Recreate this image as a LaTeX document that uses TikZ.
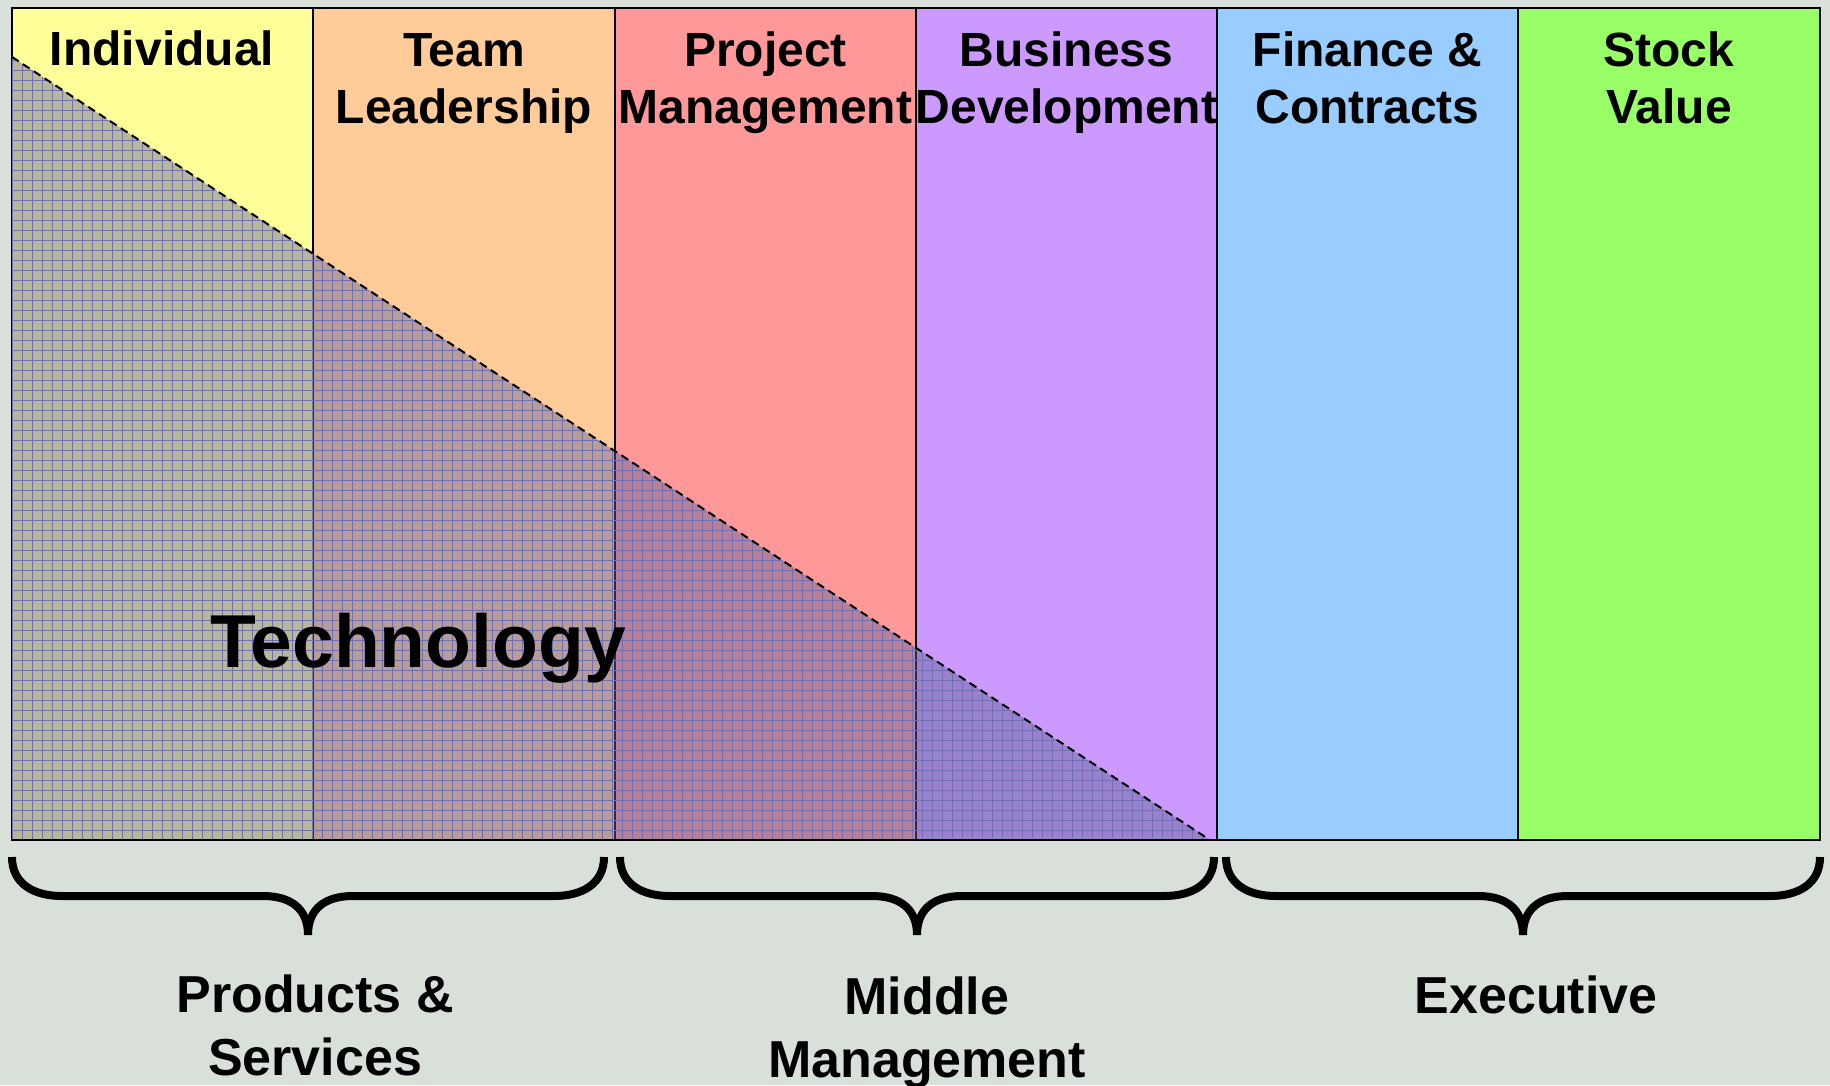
\documentclass[tikz,border=0pt]{standalone}
\usepackage{fontspec}
\setmainfont{Liberation Sans}
\definecolor{bgc}{RGB}{217,224,217}
\definecolor{cyel}{RGB}{255,255,153}
\definecolor{corg}{RGB}{255,204,153}
\definecolor{cred}{RGB}{255,153,153}
\definecolor{cpur}{RGB}{204,153,255}
\definecolor{cblu}{RGB}{153,204,255}
\definecolor{cgrn}{RGB}{153,255,102}
\definecolor{ovl}{RGB}{98,98,151}
\definecolor{gridc}{RGB}{112,112,178}
\begin{document}
\begin{tikzpicture}[x=1pt,y=-1pt,
  colborder/.style={draw=black, line width=2pt},
  head/.style={font=\fontsize{48}{57}\selectfont\bfseries, align=center, anchor=base, inner sep=0pt},
  grouplabel/.style={font=\fontsize{52}{63}\selectfont\bfseries, align=center, anchor=base, inner sep=0pt},
  bigword/.style={font=\fontsize{75}{80}\selectfont\bfseries, anchor=base, inner sep=0pt},
  bracestroke/.style={draw=black, line width=8pt, line cap=butt},
  gridline/.style={draw=gridc, line width=0.9pt},
  hypot/.style={draw=black, line width=2pt, dash pattern=on 8pt off 5pt}]
\fill[bgc] (0,0) rectangle (1830,1085);
\useasboundingbox (0,0) rectangle (1830,1085);
% columns
\fill[cyel] (12,8) rectangle (313,840);
\fill[corg] (313,8) rectangle (615,840);
\fill[cred] (615,8) rectangle (916,840);
\fill[cpur] (916,8) rectangle (1217,840);
\fill[cblu] (1217,8) rectangle (1518,840);
\fill[cgrn] (1518,8) rectangle (1820,840);
\foreach \x in {313,615,916,1217,1518} \draw[colborder] (\x,8) -- (\x,840);
\draw[colborder] (12,8) rectangle (1820,840);
% technology triangle
\begin{scope}
  \clip (12,57) -- (12,840) -- (1210,840) -- cycle;
  \fill[ovl, opacity=0.45] (0,0) rectangle (1830,1085);
  \foreach \gx in {12,22,...,1212} \draw[gridline] (\gx,40) -- (\gx,845);
  \foreach \gy in {50,60,...,840} \draw[gridline] (0,\gy) -- (1220,\gy);
\end{scope}
\draw[hypot] (12,57) -- (1210,840);
\draw[black, line width=2pt] (12,840) -- (1220,840);
% headers
\node[head] (h1) at (162,65) {Individual};
\node[head] (h2) at (464,123) {Team\\Leadership};
\node[head] (h3) at (765.5,123) {Project\\Management};
\node[head] (h4) at (1066.5,123) {Business\\Development};
\node[head] (h5) at (1367.5,123) {Finance \&\\Contracts};
\node[head] (h6) at (1669,123) {Stock\\Value};
\node[bigword] (tech) at (418,667) {Technology};
% braces
\foreach \a/\b in {12/604, 620/1214, 1226/1820}{
  \pgfmathsetmacro{\c}{(\a+\b)/2}
  \draw[bracestroke] (\a,857) .. controls (\a,884) and (\a+22,896) .. (\a+50,896)
     -- (\c-45,896) .. controls (\c-18,896) and (\c,908) .. (\c,935);
  \draw[bracestroke] (\c,935) .. controls (\c,908) and (\c+18,896) .. (\c+45,896)
     -- (\b-50,896) .. controls (\b-22,896) and (\b,884) .. (\b,857);
}
% group labels
\node[grouplabel] (g1) at (315,1075) {Products \&\\Services};
\node[grouplabel] (g2) at (927,1077) {Middle\\Management};
\node[grouplabel] (g3) at (1536,1013) {Executive};
\end{tikzpicture}
\end{document}
